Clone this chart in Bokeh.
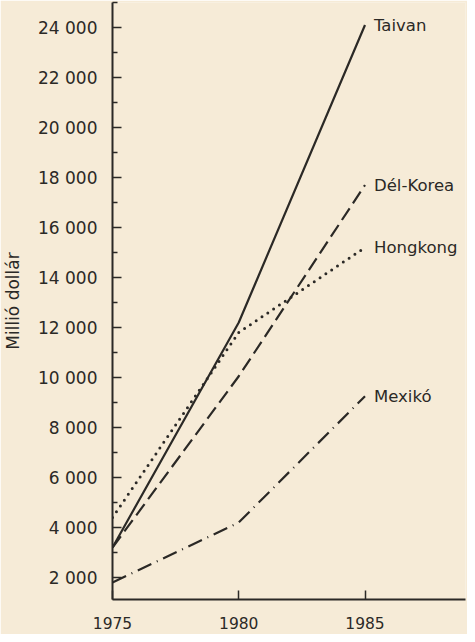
from bokeh.plotting import figure
from bokeh.models import FixedTicker, Range1d, ColumnDataSource
from bokeh.core.properties import value
from bokeh.embed import file_html
from bokeh.resources import INLINE

years = [1975, 1980, 1985]
taivan = [3200, 12200, 24100]
del_korea = [3200, 10050, 17700]
hongkong = [4400, 11800, 15200]
mexiko = [1800, 4200, 9250]
series_names = ["Taivan", "Dél-Korea", "Hongkong", "Mexikó"]

y_ticks = [2000, 4000, 6000, 8000, 10000, 12000, 14000, 16000, 18000, 20000, 22000, 24000]
y_tick_labels = ["2 000", "4 000", "6 000", "8 000", "10 000", "12 000", "14 000",
                 "16 000", "18 000", "20 000", "22 000", "24 000"]
y_minor = [3000, 5000, 7000, 9000, 11000, 13000, 15000, 17000, 19000, 21000, 23000, 25000]
x_ticks = [1975, 1980, 1985]

BG = "#f6ebd7"
INK = "#2b2926"
FONT = "DejaVu Sans"

p = figure(width=467, height=634, output_backend="svg", toolbar_location=None,
           x_range=Range1d(1975, 1988.98), y_range=Range1d(1120, 25000),
           min_border_left=110, min_border_right=2, min_border_top=2, min_border_bottom=35,
           background_fill_color=BG, border_fill_color=BG, outline_line_color=None)
p.grid.visible = False

p.yaxis.ticker = FixedTicker(ticks=y_ticks, minor_ticks=y_minor)
p.yaxis.major_label_overrides = {t: l for t, l in zip(y_ticks, y_tick_labels)}
p.xaxis.ticker = FixedTicker(ticks=x_ticks)
p.xaxis.major_label_overrides = {t: str(t) for t in x_ticks}

for ax in (p.xaxis[0], p.yaxis[0]):
    ax.axis_line_color = INK
    ax.axis_line_width = 2
    ax.major_tick_line_color = INK
    ax.major_tick_line_width = 1.5
    ax.minor_tick_line_color = INK
    ax.minor_tick_line_width = 1.5
    ax.major_tick_out = 0
    ax.minor_tick_out = 0
    ax.major_label_text_font = FONT
    ax.major_label_text_color = INK

p.yaxis.major_label_text_font_size = "17px"
p.xaxis.major_label_text_font_size = "15.5px"
p.yaxis.major_tick_in = 9
p.yaxis.minor_tick_in = 5
p.yaxis.major_label_standoff = 15
p.xaxis.major_tick_in = 9
p.xaxis.minor_tick_in = 0
p.xaxis.major_label_standoff = 17

p.yaxis.axis_label = "Millió dollár"
p.yaxis.axis_label_text_font = FONT
p.yaxis.axis_label_text_font_size = "17px"
p.yaxis.axis_label_text_font_style = "normal"
p.yaxis.axis_label_text_color = INK
p.yaxis.axis_label_standoff = 12

p.line(years, taivan, line_color=INK, line_width=2.2)
p.line(years, del_korea, line_color=INK, line_width=2.2, line_dash="14 6")
p.line(years, hongkong, line_color=INK, line_width=3, line_dash="0 7", line_cap="round")
p.line(years, mexiko, line_color=INK, line_width=2.2, line_dash="15 6 1 6")

ends = [taivan[-1], del_korea[-1], hongkong[-1], mexiko[-1]]
src = ColumnDataSource(dict(x=[years[-1]] * 4, y=ends, t=series_names))
p.text(x="x", y="y", text="t", source=src, x_offset=9, text_baseline="middle",
       text_align="left", text_font=value(FONT), text_font_size="16.5px", text_color=INK)

open("out.html", "w").write(file_html(p, INLINE))
